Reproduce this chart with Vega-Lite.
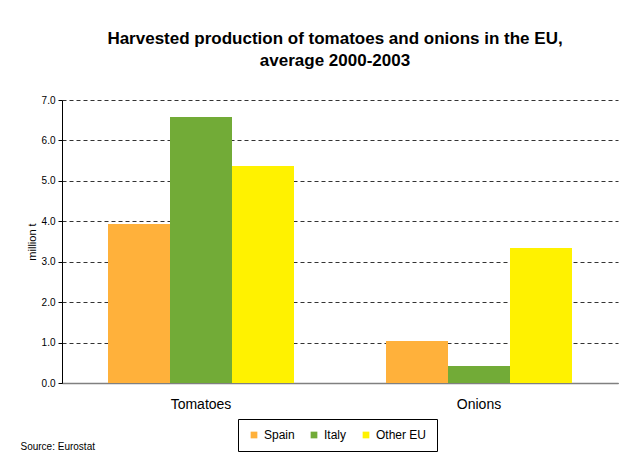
{
  "$schema": "https://vega.github.io/schema/vega-lite/v6.json",
  "width": 556,
  "height": 283,
  "autosize": "none",
  "padding": {"left": 62, "top": 100, "right": 26, "bottom": 76},
  "background": "white",
  "title": {
    "text": ["Harvested production of tomatoes and onions in the EU,", "average 2000-2003"],
    "font": "Liberation Sans",
    "fontSize": 17,
    "fontWeight": "bold",
    "color": "black",
    "anchor": "middle",
    "dx": -5,
    "lineHeight": 22,
    "offset": 25
  },
  "data": {
    "values": [
      {"crop": "Tomatoes", "country": "Spain", "value": 3.93},
      {"crop": "Tomatoes", "country": "Italy", "value": 6.58},
      {"crop": "Tomatoes", "country": "Other EU", "value": 5.37},
      {"crop": "Onions", "country": "Spain", "value": 1.04},
      {"crop": "Onions", "country": "Italy", "value": 0.42},
      {"crop": "Onions", "country": "Other EU", "value": 3.34}
    ]
  },
  "mark": {"type": "bar"},
  "encoding": {
    "x": {
      "field": "crop",
      "type": "nominal",
      "sort": ["Tomatoes", "Onions"],
      "scale": {"paddingInner": 0, "paddingOuter": 0},
      "axis": {
        "title": "Source: Eurostat",
        "titleFont": "Liberation Sans",
        "titleFontSize": 10,
        "titleFontWeight": "normal",
        "titleColor": "black",
        "titleAnchor": "start",
        "titleAlign": "left",
        "titleX": -42,
        "titleY": 58,
        "labelAngle": 0,
        "labelFont": "Liberation Sans",
        "labelFontSize": 14,
        "labelColor": "black",
        "labelPadding": 14,
        "ticks": false,
        "domainColor": "#808080",
        "domainWidth": 1.5,
        "grid": false
      }
    },
    "xOffset": {
      "field": "country",
      "type": "nominal",
      "sort": ["Spain", "Italy", "Other EU"],
      "scale": {"paddingInner": 0, "paddingOuter": 0.742}
    },
    "y": {
      "field": "value",
      "type": "quantitative",
      "scale": {"domain": [0, 7], "nice": false},
      "axis": {
        "title": "million t",
        "titleFont": "Liberation Sans",
        "titleFontSize": 11,
        "titleFontWeight": "normal",
        "titleColor": "black",
        "titlePadding": 4,
        "values": [0, 1, 2, 3, 4, 5, 6, 7],
        "format": ".1f",
        "labelFont": "Liberation Sans",
        "labelFontSize": 10,
        "labelColor": "black",
        "labelPadding": 3,
        "tickSize": 4,
        "tickColor": "black",
        "domainColor": "black",
        "grid": true,
        "gridColor": "#333333",
        "gridDash": [4, 3],
        "gridWidth": 1
      }
    },
    "color": {
      "field": "country",
      "type": "nominal",
      "sort": ["Spain", "Italy", "Other EU"],
      "scale": {"domain": ["Spain", "Italy", "Other EU"], "range": ["#FFB13B", "#72AB37", "#FFF200"]},
      "legend": {
        "title": null,
        "orient": "none",
        "legendX": 176,
        "legendY": 319,
        "direction": "horizontal",
        "symbolType": "square",
        "symbolSize": 45,
        "symbolStrokeWidth": 0,
        "labelFont": "Liberation Sans",
        "labelFontSize": 12,
        "labelColor": "black",
        "columnPadding": 13,
        "padding": 10,
        "strokeColor": "black",
        "fillColor": "white"
      }
    }
  },
  "config": {
    "view": {"stroke": null}
  }
}
